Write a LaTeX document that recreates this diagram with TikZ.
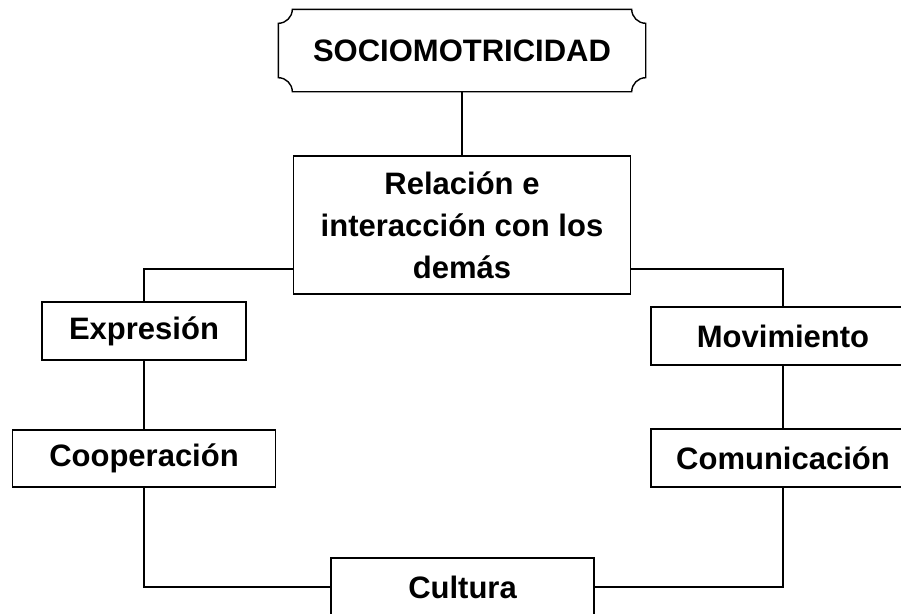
\documentclass[tikz,border=0pt]{standalone}
\usepackage{fontspec}
\setmainfont{Liberation Sans}
\usetikzlibrary{calc}
\begin{document}
\begin{tikzpicture}[x=1pt,y=-1pt,line width=1.4pt,
        caja/.style={draw,rectangle,inner sep=0pt,align=center,
            font=\fontsize{31}{42}\selectfont\bfseries}]
            \clip (0, 0) rectangle (901, 613);
            \node (top) at (462, 50.5)[caja,draw=none,minimum width=366pt,minimum height=81pt]{SOCIOMOTRICIDAD};
            \node (rel) at (462, 225)[caja,minimum width=337pt,minimum height=138pt]{Relación e\\interacción con los\\demás};
            \node (expr) at (144, 331)[caja,minimum width=204pt,minimum height=58pt]{Expresión};
            \node (coop) at (144, 458.5)[caja,minimum width=263pt,minimum height=57pt]{Cooperación};
            \node (mov) at (783, 336)[caja,minimum width=264pt,minimum height=58pt]{Movimiento};
            \node (com) at (783, 458)[caja,minimum width=264pt,minimum height=58pt]{Comunicación};
            \node (cult) at (462.5, 587)[caja,minimum width=263pt,minimum height=58pt]{Cultura};
            % marco del titulo
            \draw ($(top.north west)+(14,0)$) -- ($(top.north east)+(-14,0)$)
                .. controls +(0,7.7) and +(-7.7,0) .. ($(top.north east)+(0,14)$)
                -- ($(top.south east)+(0,-14)$)
                .. controls +(-7.7,0) and +(0,-7.7) .. ($(top.south east)+(-14,0)$)
                -- ($(top.south west)+(14,0)$)
                .. controls +(0,-7.7) and +(7.7,0) .. ($(top.south west)+(0,-14)$)
                -- ($(top.north west)+(0,14)$)
                .. controls +(7.7,0) and +(0,7.7) .. ($(top.north west)+(14,0)$) -- cycle;
            \draw (top.south) -- (rel.north);
            \draw ([yshift=-44pt]rel.west) -| (expr.north);
            \draw (expr.south) -- (coop.north);
            \draw (coop.south) |- (cult.west);
            \draw ([yshift=-44pt]rel.east) -| (mov.north);
            \draw (mov.south) -- (com.north);
            \draw (com.south) |- (cult.east);
        \end{tikzpicture}
\end{document}
